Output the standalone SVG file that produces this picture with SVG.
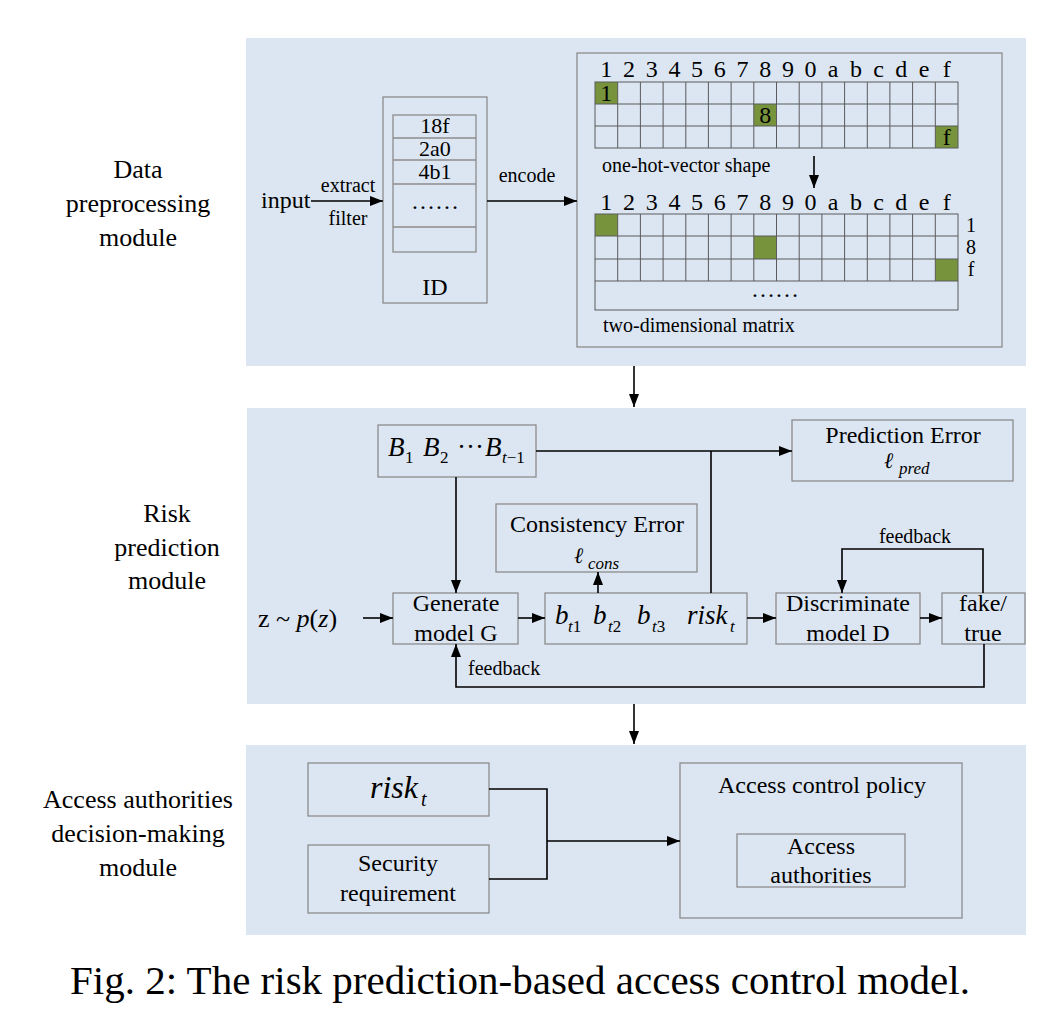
<svg xmlns="http://www.w3.org/2000/svg" width="1054" height="1018" viewBox="0 0 1054 1018">
<defs>
<style>
text{font-family:"Liberation Serif","Times New Roman",serif;fill:#000}
.panel{fill:#DCE6F2}
.box{fill:none;stroke:#8C8C8C;stroke-width:1.3}
.grid{fill:none;stroke:#5A5A5A;stroke-width:1}
.on{fill:#77933C}
.conn{fill:none;stroke:#000;stroke-width:1.6}
.c{text-anchor:middle}
.l{font-size:24px}
.t{font-size:22px}
.s{font-size:20px}
.m{font-size:26px;text-anchor:middle}
.i{font-style:italic}
.sub{font-size:17px;font-style:italic}
</style>
<marker id="ah" markerUnits="userSpaceOnUse" markerWidth="13" markerHeight="10" refX="13" refY="5" orient="auto">
<path d="M0,0 L13,5 L0,10 z" fill="#000"/>
</marker>
</defs>
<rect width="1054" height="1018" fill="#fff"/>

<g id="panels">
<rect class="panel" x="246" y="38" width="780" height="328"/>
<rect class="panel" x="247" y="408" width="779" height="296"/>
<rect class="panel" x="246" y="745" width="780" height="190"/>
</g>

<g id="module-labels">
<text class="m" x="138" y="178">Data</text>
<text class="m" x="138" y="212">preprocessing</text>
<text class="m" x="138" y="246">module</text>
<text class="m" x="167" y="522">Risk</text>
<text class="m" x="167" y="556">prediction</text>
<text class="m" x="167" y="589">module</text>
<text class="m" x="138" y="808">Access authorities</text>
<text class="m" x="138" y="842">decision-making</text>
<text class="m" x="138" y="876">module</text>
</g>

<g id="input">
<text class="l" x="261" y="208">input</text>
<text class="s c" x="348" y="192">extract</text>
<text class="s c" x="348" y="225">filter</text>
<text class="s c" x="527" y="182">encode</text>
</g>

<g id="id-table">
<rect class="box" x="383" y="97" width="104" height="206"/>
<rect class="box" x="393" y="115" width="83" height="137"/>
<path class="box" d="M393,138H476M393,160H476M393,184H476M393,227H476"/>
<text class="t c" x="435" y="133">18f</text>
<text class="t c" x="435" y="156">2a0</text>
<text class="t c" x="435" y="179">4b1</text>
<text class="l c" x="435" y="209">……</text>
<text class="l c" x="435" y="295">ID</text>
</g>

<g id="matrix">
<rect class="box" x="577" y="53" width="425" height="294"/>
<g class="l c">
<text x="606.3" y="77">1</text><text x="629" y="77">2</text><text x="651.7" y="77">3</text><text x="674.4" y="77">4</text><text x="697.1" y="77">5</text><text x="719.8" y="77">6</text><text x="742.5" y="77">7</text><text x="765.2" y="77">8</text><text x="787.9" y="77">9</text><text x="810.5" y="77">0</text><text x="833.2" y="77">a</text><text x="855.9" y="77">b</text><text x="878.6" y="77">c</text><text x="901.3" y="77">d</text><text x="924" y="77">e</text><text x="946.7" y="77">f</text>
</g>
<rect class="on" x="595" y="82" width="22.7" height="22"/>
<rect class="on" x="753.8" y="104" width="22.7" height="22"/>
<rect class="on" x="935.3" y="126" width="22.7" height="22"/>
<rect class="grid" x="595" y="82" width="363" height="66"/>
<path class="grid" d="M595,104H958M595,126H958M617.7,82V148M640.4,82V148M663.1,82V148M685.8,82V148M708.4,82V148M731.1,82V148M753.8,82V148M776.5,82V148M799.2,82V148M821.9,82V148M844.6,82V148M867.3,82V148M889.9,82V148M912.6,82V148M935.3,82V148"/>
<text class="l c" x="606.3" y="101">1</text>
<text class="l c" x="765.2" y="123">8</text>
<text class="l c" x="946.7" y="145">f</text>
<text class="s" x="602" y="172">one-hot-vector shape</text>
<g class="l c">
<text x="606.3" y="210">1</text><text x="629" y="210">2</text><text x="651.7" y="210">3</text><text x="674.4" y="210">4</text><text x="697.1" y="210">5</text><text x="719.8" y="210">6</text><text x="742.5" y="210">7</text><text x="765.2" y="210">8</text><text x="787.9" y="210">9</text><text x="810.5" y="210">0</text><text x="833.2" y="210">a</text><text x="855.9" y="210">b</text><text x="878.6" y="210">c</text><text x="901.3" y="210">d</text><text x="924" y="210">e</text><text x="946.7" y="210">f</text>
</g>
<rect class="on" x="595" y="214" width="22.7" height="22"/>
<rect class="on" x="753.8" y="236" width="22.7" height="23"/>
<rect class="on" x="935.3" y="259" width="22.7" height="22"/>
<rect class="grid" x="595" y="214" width="363" height="96"/>
<path class="grid" d="M595,236H958M595,259H958M595,281H958M617.7,214V281M640.4,214V281M663.1,214V281M685.8,214V281M708.4,214V281M731.1,214V281M753.8,214V281M776.5,214V281M799.2,214V281M821.9,214V281M844.6,214V281M867.3,214V281M889.9,214V281M912.6,214V281M935.3,214V281"/>
<text class="s c" x="971" y="232">1</text>
<text class="s c" x="971" y="254">8</text>
<text class="s c" x="971" y="276">f</text>
<text class="l c" x="775" y="297">……</text>
<text class="s" x="603" y="332">two-dimensional matrix</text>
</g>

<g id="history">
<rect class="box" x="378" y="425" width="158" height="52"/>
<text class="i" font-size="27" y="456"><tspan x="388">B</tspan><tspan x="423">B</tspan><tspan x="485">B</tspan></text>
<text font-size="17" y="463"><tspan x="405">1</tspan><tspan x="440">2</tspan></text>
<text font-size="27" y="456"><tspan x="457">·</tspan><tspan x="466">·</tspan><tspan x="475">·</tspan></text>
<text font-size="17" y="463" x="502"><tspan class="i">t</tspan>−1</text>
</g>

<g id="prediction-error">
<rect class="box" x="792" y="420" width="221" height="61"/>
<text class="l c" x="903" y="443">Prediction Error</text>
<text class="i" font-size="22" x="884" y="468">ℓ</text>
<text class="sub" x="899" y="474">pred</text>
</g>

<g id="consistency-error">
<rect class="box" x="496" y="504" width="201" height="68"/>
<text class="l c" x="597" y="532">Consistency Error</text>
<text class="i" font-size="22" x="574" y="563">ℓ</text>
<text class="sub" x="588" y="569">cons</text>
</g>

<g id="noise">
<text font-size="26" x="258" y="627">z ~ <tspan class="i">p</tspan>(<tspan class="i">z</tspan>)</text>
</g>

<g id="generator">
<rect class="box" x="393" y="593" width="125" height="51"/>
<text class="l c" x="456" y="611">Generate</text>
<text class="l c" x="456" y="641">model G</text>
</g>

<g id="generated">
<rect class="box" x="545" y="593" width="202" height="51"/>
<text class="i" font-size="27" y="624"><tspan x="555">b</tspan><tspan x="593">b</tspan><tspan x="637">b</tspan><tspan x="687">risk</tspan></text>
<text font-size="17" y="632"><tspan class="i" x="568">t</tspan>1<tspan class="i" x="608">t</tspan>2<tspan class="i" x="652">t</tspan>3<tspan class="i" x="730">t</tspan></text>
</g>

<g id="discriminator">
<rect class="box" x="776" y="593" width="144" height="51"/>
<text class="l c" x="848" y="611">Discriminate</text>
<text class="l c" x="848" y="641">model D</text>
</g>

<g id="fake-true">
<rect class="box" x="942" y="593" width="83" height="51"/>
<text class="l c" x="983" y="611">fake/</text>
<text class="l c" x="983" y="641">true</text>
</g>

<g id="feedback-labels">
<text class="s c" x="915" y="543">feedback</text>
<text class="s" x="468" y="675">feedback</text>
</g>

<g id="risk-input">
<rect class="box" x="308" y="763" width="181" height="53"/>
<text class="i" font-size="32" x="370" y="798">risk</text>
<text class="i" font-size="20" x="421" y="806">t</text>
</g>

<g id="security">
<rect class="box" x="308" y="845" width="181" height="68"/>
<text class="l c" x="398" y="871">Security</text>
<text class="l c" x="398" y="901">requirement</text>
</g>

<g id="policy">
<rect class="box" x="680" y="763" width="282" height="155"/>
<text class="l c" x="822" y="793">Access control policy</text>
<rect class="box" x="737" y="834" width="168" height="53"/>
<text class="l c" x="821" y="854">Access</text>
<text class="l c" x="821" y="883">authorities</text>
</g>

<g id="connectors">
<path class="conn" d="M311,201H383" marker-end="url(#ah)"/>
<path class="conn" d="M487,201H577" marker-end="url(#ah)"/>
<path class="conn" d="M814,156V188" marker-end="url(#ah)"/>
<path class="conn" d="M634,366V407" marker-end="url(#ah)"/>
<path class="conn" d="M634,704V744" marker-end="url(#ah)"/>
<path class="conn" d="M536,451H792" marker-end="url(#ah)"/>
<path class="conn" d="M711,593V451"/>
<path class="conn" d="M456,477V593" marker-end="url(#ah)"/>
<path class="conn" d="M363,618H393" marker-end="url(#ah)"/>
<path class="conn" d="M518,618H545" marker-end="url(#ah)"/>
<path class="conn" d="M598,593V572" marker-end="url(#ah)"/>
<path class="conn" d="M747,618H776" marker-end="url(#ah)"/>
<path class="conn" d="M920,618H942" marker-end="url(#ah)"/>
<path class="conn" d="M983,593V549H842V593" marker-end="url(#ah)"/>
<path class="conn" d="M984,644V687H456V644" marker-end="url(#ah)"/>
<path class="conn" d="M489,789H547V879H489"/>
<path class="conn" d="M547,841H680" marker-end="url(#ah)"/>
</g>

<g id="caption">
<text font-size="41" x="70" y="994">Fig. 2: The risk prediction-based access control model.</text>
</g>
</svg>
